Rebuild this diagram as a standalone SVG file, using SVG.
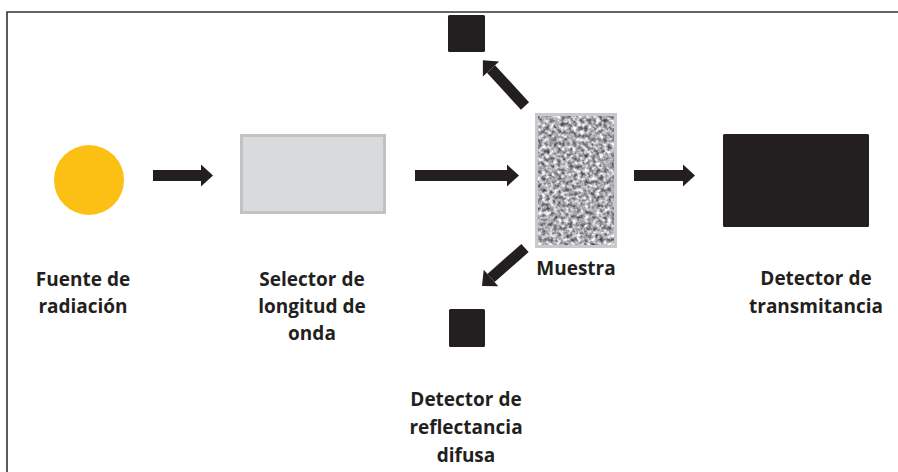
<svg xmlns="http://www.w3.org/2000/svg" width="898" height="472" viewBox="0 0 898 472">
<style>
.lbl{font-family:"Open Sans","Liberation Sans",sans-serif;font-weight:700;font-size:19px;fill:#231f20;text-anchor:middle}
.conn{stroke:#231f20;stroke-width:11;fill:none}
.det{fill:#231f20}
</style>
<defs>
<marker id="ah" markerUnits="userSpaceOnUse" markerWidth="13" markerHeight="23" refX="0" refY="11" orient="auto" overflow="visible">
<path d="M0,0 L12,11 L0,22 Z" fill="#231f20"/>
</marker>
<filter id="noise" x="0" y="0" width="1" height="1" color-interpolation-filters="sRGB">
<feTurbulence type="fractalNoise" baseFrequency="0.26" numOctaves="2" seed="7"/>
<feColorMatrix type="matrix" values="1.25 0 0 0 0.04  1.25 0 0 0 0.04  1.25 0 0 0 0.06  0 0 0 0 1"/>
</filter>
</defs>
<rect width="898" height="472" fill="#ffffff"/>
<path d="M7,480 L7,12 L905,12" fill="none" stroke="#333333" stroke-width="1.6"/>

<g id="fuente">
<circle cx="89" cy="180" r="35" fill="#fcc015"/>
<text class="lbl" x="83" y="286">Fuente de</text>
<text class="lbl" x="83" y="313">radiación</text>
</g>

<g id="selector">
<rect x="241.5" y="135.5" width="143" height="77" fill="#d9dadc" stroke="#c1c2c4" stroke-width="3"/>
<text class="lbl" x="312" y="286">Selector de</text>
<text class="lbl" x="312" y="313">longitud de</text>
<text class="lbl" x="312" y="340">onda</text>
</g>

<g id="muestra">
<rect x="536.5" y="114.5" width="79" height="132" fill="#c8c9cb" stroke="#c8c9cb" stroke-width="3"/>
<rect x="538" y="116" width="76" height="129" filter="url(#noise)"/>
<text class="lbl" x="576" y="275">Muestra</text>
</g>

<g id="detector-transmitancia">
<rect class="det" x="723" y="134" width="146" height="93" rx="1.5"/>
<text class="lbl" x="816" y="285">Detector de</text>
<text class="lbl" x="816" y="313">transmitancia</text>
</g>

<g id="detector-superior">
<rect class="det" x="448" y="15" width="37" height="37" rx="1.5"/>
</g>

<g id="detector-reflectancia">
<rect class="det" x="449" y="309" width="36" height="38" rx="1.5"/>
<text class="lbl" x="466" y="406">Detector de</text>
<text class="lbl" x="466" y="434">reflectancia</text>
<text class="lbl" x="466" y="462">difusa</text>
</g>

<g id="connectors">
<line class="conn" x1="153" y1="175.5" x2="201" y2="175.5" marker-end="url(#ah)"/>
<line class="conn" x1="415" y1="175.5" x2="507" y2="175.5" marker-end="url(#ah)"/>
<line class="conn" x1="634" y1="175.5" x2="683" y2="175.5" marker-end="url(#ah)"/>
<line class="conn" x1="525" y1="106" x2="491" y2="69" marker-end="url(#ah)"/>
<line class="conn" x1="525" y1="248" x2="491" y2="278" marker-end="url(#ah)"/>
</g>
</svg>
